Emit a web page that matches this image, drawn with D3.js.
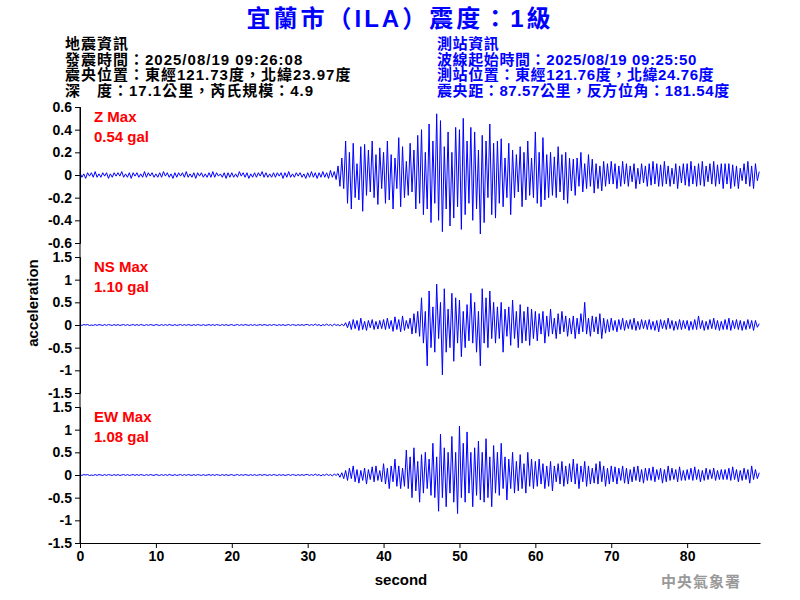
<!DOCTYPE html>
<html><head><meta charset="utf-8">
<script src="https://cdn.jsdelivr.net/npm/d3@7"></script>
<style>body{margin:0;background:#fff}</style></head>
<body><svg id="c" width="800" height="600"></svg>
<script>
const step = 0.25;
const noiseA = [.02,-.02,.01,-.03,.02,-.01,.02,-.02,.03,-.02,.01,-.02,.02,-.01,.02,-.03,.01,-.02,.02,-.01,
 .02,-.01,.03,-.02,.01,-.02,.02,-.03,.02,-.01,.02,-.02,.01,-.02,.03,-.02,.02,-.01,.02,-.02,
 .01,-.02,.02,-.02,.03,-.01,.02,-.02,.01,-.03,.02,-.02,.02,-.01,.02,-.02,.03,-.02,.01,-.02,
 .02,-.03,.02,-.01,.02,-.02,.01,-.02,.02,-.02,.03,-.02,.02,-.01,.01,-.02,.02,-.03,.02,-.02,
 .02,-.02,.01,-.02,.03,-.01,.02,-.02,.02,-.03,.01,-.02,.02,-.02,.02,-.01,.03,-.02,.02,-.02,
 .01,-.02,.02,-.02,.02,-.01,.02,-.03,.02,-.02,.03,-.02,.01,-.02,.02,-.01,.02,-.02,.01,-.03];
const zVals = noiseA.concat([
 .02,-.02,.03,-.02,.02,-.03,.02,-.02,.03,-.02,.02,-.03,.04,-.02,.03,-.04,.08,-.1,.15,-.12,
 .3,-.25,.2,-.3,.28,-.2,.1,-.22,.25,-.32,.27,-.18,.22,-.15,.3,-.2,.18,-.26,.24,-.12,
 .2,-.25,.3,-.22,.18,-.3,.15,-.12,.33,-.28,.25,-.2,.12,-.18,.28,-.15,.22,-.3,.35,-.25,
 .4,-.35,.2,-.3,.45,-.42,.3,-.25,.54,-.4,.48,-.5,.25,-.3,.38,-.45,.2,-.38,.42,-.28,
 .4,-.48,.5,-.35,.3,-.25,.42,-.4,.38,-.3,.22,-.52,.35,-.42,.3,-.2,.45,-.35,.28,-.38,
 .3,-.25,.32,-.28,.15,-.2,.28,-.35,.22,-.2,.18,-.15,.25,-.28,.2,-.22,.3,-.18,.15,-.2,
 .38,-.25,.2,-.28,.33,-.22,.18,-.2,.2,-.18,.16,-.2,.25,-.15,.18,-.22,.2,-.25,.15,-.14,
 .14,-.18,.15,-.1,.2,-.15,.1,-.12,.18,-.1,.14,-.16,.1,-.12,.08,-.14,.12,-.1,.1,-.08,
 .12,-.08,.1,-.12,.08,-.1,.12,-.08,.1,-.1,.08,-.06,.1,-.12,.06,-.08,.1,-.07,.08,-.1,
 .1,-.09,.12,-.08,.1,-.1,.09,-.1,.12,-.08,.08,-.1,.06,-.08,.1,-.12,.08,-.07,.1,-.09,
 .1,-.1,.12,-.08,.08,-.1,.1,-.09,.12,-.1,.08,-.06,.1,-.08,.12,-.1,.09,-.08,.1,-.12,
 .1,-.08,.1,-.12,.09,-.1,.08,-.12,.06,-.05,.1,-.08,.12,-.1,.08,-.12,.1,-.05,.03]);
const noiseB = [.01,-.01,.01,0,.01,-.01,0,-.01,.01,-.01,.01,0,-.01,.01,-.01,.01,0,-.01,.01,-.01,
 .01,-.01,0,.01,-.01,.01,-.01,0,.01,-.01,.01,-.01,.01,0,-.01,.01,-.01,.01,0,-.01,
 .01,0,-.01,.01,-.01,.01,-.01,.01,0,-.01,.01,-.01,0,.01,-.01,.01,-.01,.01,0,-.01,
 .01,-.01,.01,0,-.01,.01,-.01,0,.01,-.01,.01,-.01,.01,0,-.01,.01,-.01,.01,-.01,0,
 .01,-.01,0,.01,-.01,.01,-.01,.01,0,-.01,.01,-.01,.01,-.01,0,.01,-.01,.01,0,-.01,
 .01,-.01,.01,0,-.01,.01,-.01,.01,-.01,0,.01,-.01,.01,0,-.01,.01,-.01,.01,-.01,.01,
 .01,-.01,.01,-.01,.02,-.01,.01,-.02,.01,-.01,.02,-.01,.01,-.02,.02,-.01,.01,-.02,.02,-.02];
const nsVals = noiseB.concat([
 .05,-.06,.08,-.1,.12,-.08,.1,-.12,.15,-.1,.08,-.12,.1,-.06,.12,-.1,.08,-.09,.1,-.08,
 .12,-.1,.15,-.08,.1,-.14,.18,-.1,.12,-.15,.2,-.12,.1,-.08,.15,-.2,.25,-.18,.3,-.25,
 .6,-.4,.3,-.9,.75,-.5,.4,-.6,.9,-.3,.5,-1.1,.8,-.6,.35,-.5,.7,-.8,.6,-.4,
 .55,-.7,.3,-.5,.45,-.35,.7,-.4,.5,-.6,.3,-.9,.8,-.4,.6,-.5,.75,-.3,.5,-.4,
 .4,-.3,.5,-.6,.35,-.25,.4,-.45,.55,-.3,.3,-.5,.45,-.4,.3,-.35,.4,-.45,.35,-.3,
 .3,-.35,.25,-.2,.3,-.4,.2,-.25,.35,-.2,.15,-.3,.25,-.2,.3,-.15,.2,-.25,.15,-.2,
 .2,-.3,.15,-.2,.25,-.15,.5,-.2,.15,-.25,.2,-.15,.18,-.2,.25,-.3,.15,-.18,.12,-.15,
 .15,-.12,.1,-.15,.12,-.1,.15,-.12,.1,-.08,.12,-.1,.15,-.12,.08,-.1,.12,-.08,.1,-.1,
 .12,-.1,.08,-.12,.1,-.15,.12,-.08,.1,-.1,.15,-.08,.1,-.12,.08,-.1,.12,-.1,.1,-.08,
 .1,-.12,.08,-.1,.12,-.1,.2,-.08,.1,-.12,.08,-.1,.12,-.08,.15,-.1,.1,-.12,.08,-.1,
 .12,-.1,.15,-.12,.1,-.08,.12,-.1,.1,-.12,.08,-.1,.12,-.08,.1,-.12,.1,-.05,.03]);
const ewVals = noiseB.slice(0,136).concat([.03,-.05,.05,-.08,
 .1,-.12,.15,-.08,.2,-.15,.12,-.18,.1,-.12,.15,-.2,.12,-.1,.18,-.15,.2,-.12,.1,-.15,
 .25,-.2,.15,-.3,.2,-.15,.35,-.25,.2,-.3,.15,-.25,.55,-.3,.4,-.5,.6,-.35,.3,-.6,
 .45,-.4,.5,-.3,.35,-.45,.7,-.5,.4,-.8,.9,-.5,.6,-.7,.5,-.4,.85,-.6,.5,-.85,
 1.08,-.5,.7,-.6,.95,-.4,.5,-.7,.6,-.45,.75,-.55,.5,-.6,.8,-.5,.4,-.7,.65,-.4,
 .5,-.45,.7,-.3,.4,-.55,.35,-.3,.5,-.4,.3,-.35,.45,-.3,.25,-.4,.5,-.25,.35,-.3,
 .3,-.25,.35,-.2,.25,-.3,.2,-.25,.3,-.35,.2,-.15,.25,-.2,.3,-.25,.2,-.2,.25,-.15,
 .35,-.2,.25,-.3,.2,-.15,.3,-.25,.2,-.2,.15,-.18,.25,-.2,.3,-.15,.2,-.25,.15,-.2,
 .2,-.15,.18,-.2,.15,-.12,.2,-.18,.15,-.2,.12,-.15,.18,-.12,.2,-.15,.12,-.18,.15,-.12,
 .15,-.12,.18,-.15,.12,-.1,.15,-.18,.12,-.15,.2,-.12,.15,-.1,.12,-.15,.18,-.12,.1,-.12,
 .12,-.1,.15,-.12,.18,-.1,.12,-.15,.1,-.12,.15,-.1,.12,-.08,.15,-.12,.1,-.1,.12,-.1,
 .12,-.1,.15,-.12,.18,-.1,.12,-.15,.1,-.12,.15,-.1,.12,-.18,.2,-.1,.12,-.08,.05]);

const zTicks = [0.6,0.4,0.2,0,-0.2,-0.4,-0.6];
const hTicks = [1.5,1,0.5,0,-0.5,-1,-1.5];
const xTicks = [0,10,20,30,40,50,60,70,80];
const panels = [
 {vals:zVals, dom:0.6, ticks:zTicks, top:107, name:"Z Max", max:"0.54 gal"},
 {vals:nsVals, dom:1.5, ticks:hTicks, top:257, name:"NS Max", max:"1.10 gal"},
 {vals:ewVals, dom:1.5, ticks:hTicks, top:407, name:"EW Max", max:"1.08 gal"}];

const svg = d3.select("#c");
const x = d3.scaleLinear().domain([0,89.6]).range([80,760]);
const F = "'Liberation Sans',Arial,sans-serif";
const MIX = "'Liberation Sans','Noto Sans CJK TC',sans-serif";
const CJK = "'Noto Sans CJK TC',sans-serif";

panels.forEach(p=>{
  const y = d3.scaleLinear().domain([-p.dom,p.dom]).range([p.top+136,p.top]);
  svg.append("path").datum(p.vals).attr("fill","none").attr("stroke","#0000ff").attr("stroke-width",1)
    .attr("d", d3.line().x((d,i)=>x(i*step)).y(d=>y(d)));
  const g = svg.append("g").attr("transform","translate(80,0)")
    .call(d3.axisLeft(y).tickValues(p.ticks).tickSize(5).tickFormat(d=>d));
  g.selectAll("text").attr("font-family",F).attr("font-weight","bold").attr("font-size",14).attr("fill","#000");
  g.selectAll("line,path").attr("stroke","#000");
  svg.append("text").attr("x",94).attr("y",p.top+15).text(p.name)
    .attr("fill","#ff0000").attr("font-family",F).attr("font-weight","bold").attr("font-size",15);
  svg.append("text").attr("x",94).attr("y",p.top+35).text(p.max)
    .attr("fill","#ff0000").attr("font-family",F).attr("font-weight","bold").attr("font-size",15);
});
svg.append("line").attr("x1",80).attr("x2",80).attr("y1",107).attr("y2",543).attr("stroke","#000");
const gx = svg.append("g").attr("transform","translate(0,543)")
  .call(d3.axisBottom(x).tickValues(xTicks).tickSize(5).tickSizeOuter(0));
gx.selectAll("text").attr("font-family",F).attr("font-weight","bold").attr("font-size",14).attr("fill","#000");
gx.selectAll("line,path").attr("stroke","#000");

svg.append("text").attr("x",401).attr("y",585).attr("text-anchor","middle").text("second")
  .attr("font-family",F).attr("font-weight","bold").attr("font-size",15);
svg.append("text").attr("transform","translate(38,303) rotate(-90)").attr("text-anchor","middle").text("acceleration")
  .attr("font-family",F).attr("font-weight","bold").attr("font-size",15);
svg.append("text").attr("x",400).attr("y",27).attr("text-anchor","middle").text("宜蘭市（ILA）震度：1級")
  .attr("fill","#0000ff").attr("font-family",MIX).attr("font-weight","bold").attr("font-size",24).attr("letter-spacing",3);

const left = ["地震資訊","發震時間：2025/08/19 09:26:08","震央位置：東經121.73度，北緯23.97度","深　度：17.1公里，芮氏規模：4.9"];
const right = ["測站資訊","波線起始時間：2025/08/19 09:25:50","測站位置：東經121.76度，北緯24.76度","震央距：87.57公里，反方位角：181.54度"];
left.forEach((t,i)=>svg.append("text").attr("x",65).attr("y",49+i*15.7).text(t)
  .attr("font-family",MIX).attr("font-weight","bold").attr("font-size",15).attr("letter-spacing",1).attr("fill","#000"));
right.forEach((t,i)=>svg.append("text").attr("x",437).attr("y",49+i*15.7).text(t)
  .attr("font-family",MIX).attr("font-weight","bold").attr("font-size",15).attr("letter-spacing",0.6).attr("fill","#0000ff"));
svg.append("text").attr("x",701).attr("y",587).attr("text-anchor","middle").text("中央氣象署")
  .attr("font-family",CJK).attr("font-weight","bold").attr("font-size",15).attr("letter-spacing",1).attr("fill","#999");
</script></body></html>
